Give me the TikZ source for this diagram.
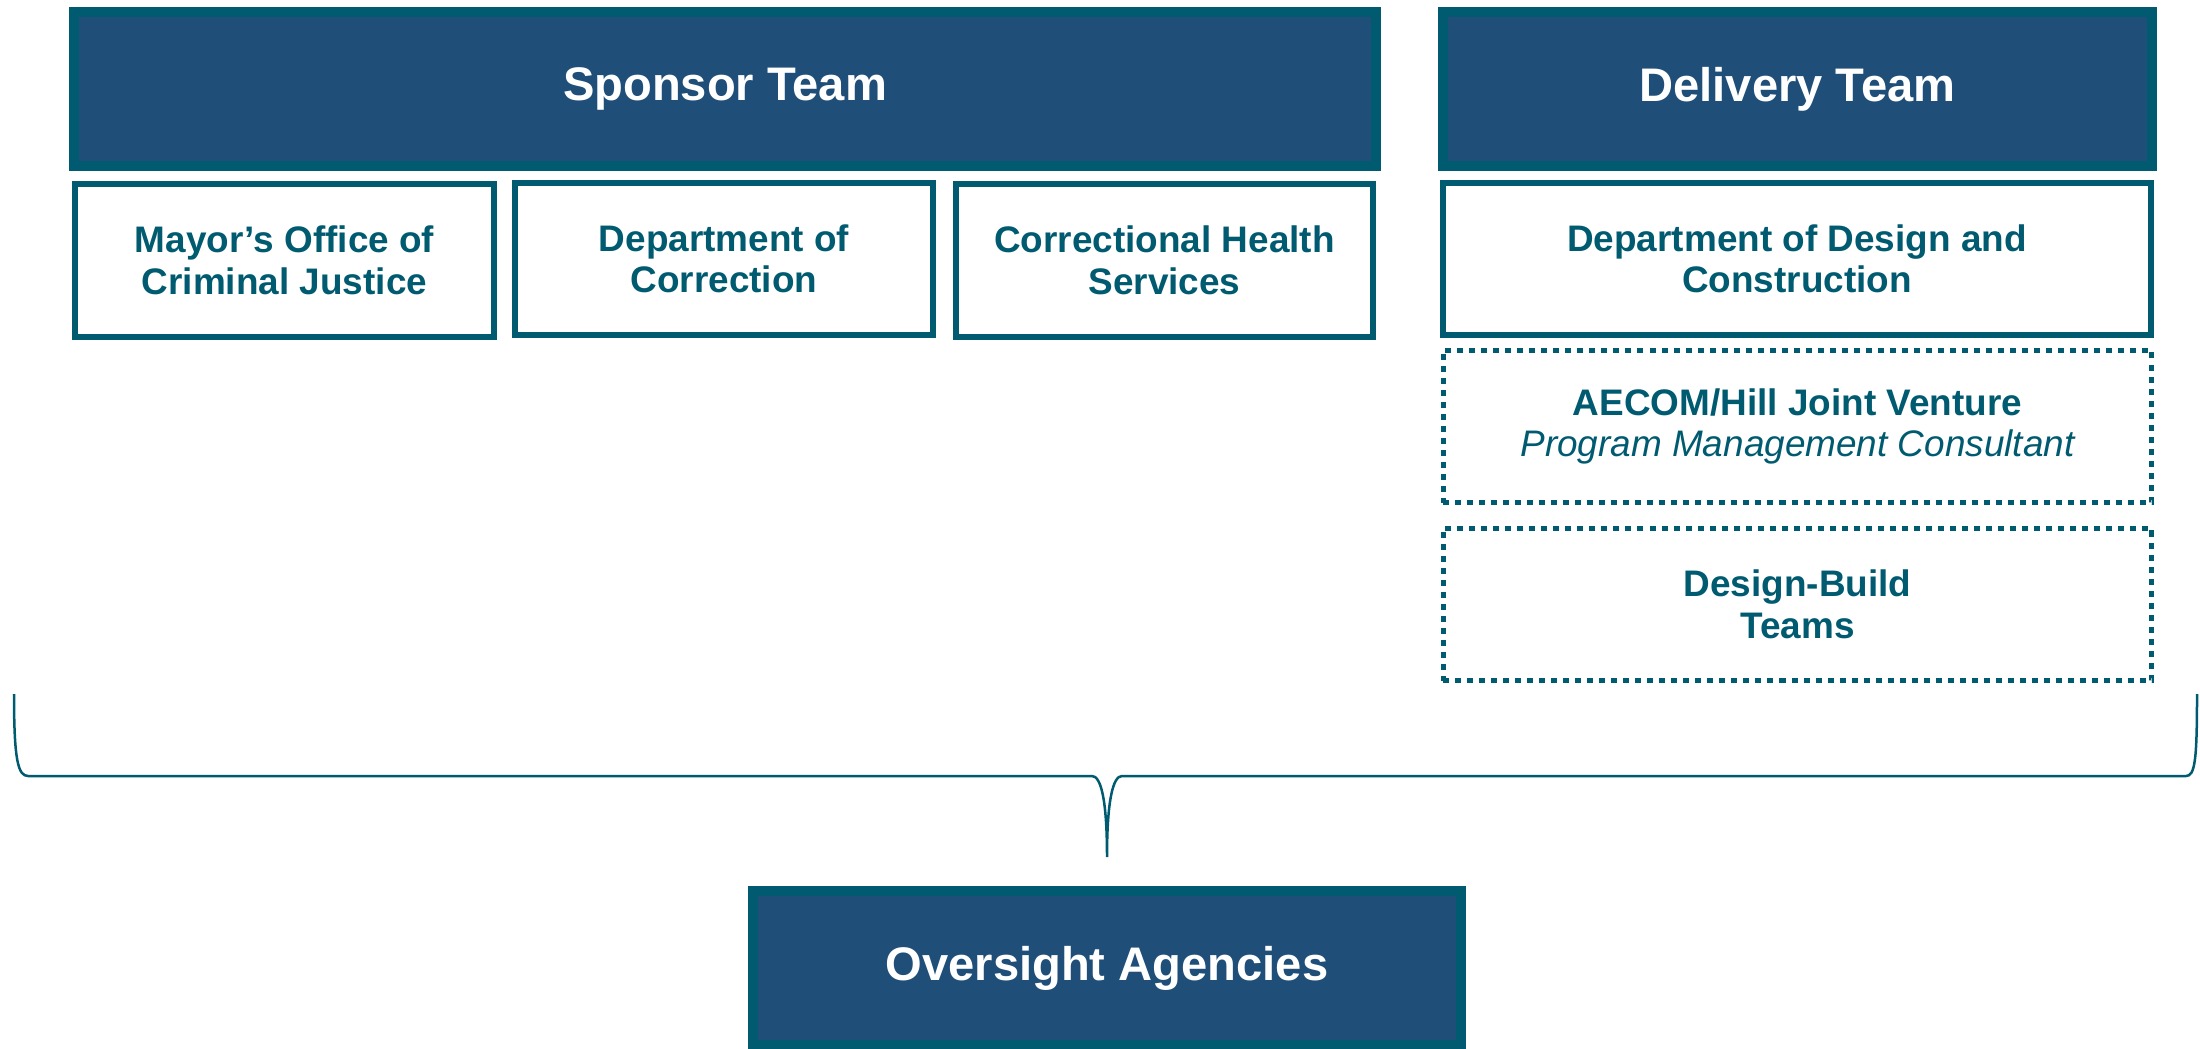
\documentclass[tikz,border=0pt]{standalone}
\usepackage{fontspec}
\setmainfont{Liberation Sans}
\definecolor{boxblue}{RGB}{31,78,121}
\definecolor{boxteal}{RGB}{0,90,112}

\begin{document}
\begin{tikzpicture}[x=0.01cm, y=-0.01cm, % 1単位 = 1px、y軸は下向き
    headbox/.style={draw=boxteal, fill=boxblue, line width=0.1cm, text=white, font=\bfseries\fontsize{13.4}{16}\selectfont, minimum height=1.54cm, inner sep=0pt},
    unitbox/.style={draw=boxteal, line width=0.06cm, text=boxteal, font=\bfseries\fontsize{10.5}{11.8}\selectfont, align=center, minimum height=1.52cm, inner sep=0pt},
    partnerbox/.style={unitbox, line width=0.05cm, dash pattern=on 0.06cm off 0.06cm}, % 点線の枠
    brace/.style={draw=boxteal, line width=0.025cm}]
    \useasboundingbox (0,0) rectangle (2200,1049); % 余白込みの大きさ

    \node[headbox, minimum width=13.02cm] (sponsor) at (725,89) {Sponsor Team}; % 上段の見出し
    \node[headbox, minimum width=7.09cm] (delivery) at (1797.5,89) {Delivery Team};

    \node[unitbox, minimum width=4.19cm] (mayor) at (284.5,260.5) {Mayor’s Office of\\Criminal Justice}; % Sponsor側
    \node[unitbox, minimum width=4.18cm] (doc) at (724,259) {Department of\\Correction};
    \node[unitbox, minimum width=4.17cm] (chs) at (1164.5,260.5) {Correctional Health\\Services};

    \node[unitbox, minimum width=7.08cm] (ddc) at (1797,259) {Department of Design and\\Construction}; % Delivery側
    \node[partnerbox, minimum width=7.08cm] (aecom) at (1797.5,426.5) {AECOM/Hill Joint Venture\\{\mdseries\itshape Program Management Consultant}};
    \node[partnerbox, minimum width=7.08cm] (dbt) at (1797.5,604.5) {Design-Build\\Teams};

    \coordinate (brL) at (14,694); % 中括弧の端点
    \coordinate (brTip) at (1107,857);
    \coordinate (brR) at (2197,694);
    \draw[brace] (brL) .. controls (14,760) and (18,776) .. (28,776) -- (1092,776) .. controls (1101,776) and (1107,800) .. (brTip) .. controls (1107,800) and (1113,776) .. (1122,776) -- (2186,776) .. controls (2195,776) and (2197,760) .. (brR);

    \node[headbox, minimum width=7.08cm] (oversight) at (1107,968) {Oversight Agencies}; % 下段
\end{tikzpicture}
\end{document}
